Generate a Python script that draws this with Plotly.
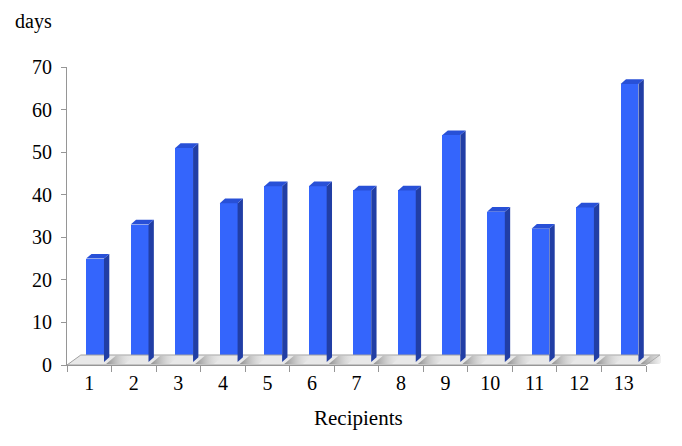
import plotly.graph_objects as go

recipients = [str(i) for i in range(1, 14)]
days = [25, 33, 51, 38, 42, 42, 41, 41, 54, 36, 32, 37, 66]
y_ticks = [0, 10, 20, 30, 40, 50, 60, 70]

# 3D-look parameters (in data units)
BAR_SHIFT = 0.13     # bar front face shifted right of category centre
BAR_W = 0.40         # front face width
DDX, DDY = 0.12, 1.1 # bar depth
FDX, FDY = 0.31, 2.35  # floor depth
BASE = 0.7

FRONT = "rgb(52,101,252)"
SIDE = "rgb(33,62,165)"
TOP = "rgb(40,80,215)"
AXIS = "rgb(150,150,150)"
FONT = "Liberation Serif"

L, T, B = 67, 67, 81
W_PLOT = 594
H_PLOT = 446 - T - B
PX_PER_CAT = 44.54

n = len(days)
xpos = [i + 1 for i in range(n)]
x_max = 0.5 + W_PLOT / PX_PER_CAT

fig = go.Figure()

# floor
fig.add_trace(go.Scatter(
    x=[0.5, n + 0.5, n + 0.5 + FDX, 0.5 + FDX, 0.5],
    y=[0, 0, FDY, FDY, 0],
    fill="toself", fillcolor="rgb(232,232,232)",
    line=dict(color="rgb(160,160,160)", width=1),
    mode="lines", hoverinfo="skip", showlegend=False))

# shadows on floor between bars
for x in xpos:
    xl = x + BAR_SHIFT + BAR_W / 2 + DDX * 0.4
    xr = x + 0.8
    fig.add_trace(go.Scatter(
        x=[xl, xr, xr + FDX * 0.7, xl + FDX * 0.7, xl],
        y=[0.25, 0.25, FDY - 0.15, FDY - 0.15, 0.25],
        fill="toself",
        fillgradient=dict(type="horizontal",
                          colorscale=[[0, "rgb(140,140,140)"], [1, "rgba(232,232,232,0)"]]),
        line=dict(width=0), mode="lines", hoverinfo="skip", showlegend=False))

# front faces
fig.add_trace(go.Bar(
    x=[x + BAR_SHIFT for x in xpos], y=[v - BASE for v in days], base=BASE,
    width=BAR_W, marker=dict(color=FRONT, line=dict(width=0)),
    hoverinfo="skip", showlegend=False))

# side and top faces
for x, v in zip(xpos, days):
    xl = x + BAR_SHIFT - BAR_W / 2
    xr = x + BAR_SHIFT + BAR_W / 2
    fig.add_trace(go.Scatter(
        x=[xr, xr + DDX, xr + DDX, xr, xr],
        y=[BASE, BASE + DDY, v + DDY, v, BASE],
        fill="toself", fillcolor=SIDE, line=dict(width=0),
        mode="lines", hoverinfo="skip", showlegend=False))
    fig.add_trace(go.Scatter(
        x=[xl, xr, xr + DDX, xl + DDX, xl],
        y=[v, v, v + DDY, v + DDY, v],
        fill="toself", fillcolor=TOP, line=dict(width=0),
        mode="lines", hoverinfo="skip", showlegend=False))

# invisible trace for the category axis display
fig.add_trace(go.Scatter(
    x=recipients, y=days, xaxis="x2", yaxis="y",
    mode="markers", marker=dict(opacity=0), hoverinfo="skip", showlegend=False))


def px_x(px):
    return (px - L) / W_PLOT


def px_y(py):
    return (446 - B - py) / H_PLOT


fig.update_layout(
    width=682, height=446,
    margin=dict(l=L, r=682 - L - W_PLOT, t=T, b=B),
    paper_bgcolor="white", plot_bgcolor="rgba(0,0,0,0)",
    font=dict(family=FONT, size=20, color="black"),
    bargap=0,
    xaxis=dict(range=[0.5, x_max], domain=[0, 1], showline=False, showgrid=False,
               zeroline=False, showticklabels=False, ticks=""),
    xaxis2=dict(type="category", categoryorder="array", categoryarray=recipients,
                range=[-0.5, n - 0.5], domain=[0, n * PX_PER_CAT / W_PLOT], anchor="y",
                side="bottom",
                showline=True, linecolor=AXIS, linewidth=1,
                ticks="outside", tickson="boundaries", ticklen=6, tickcolor=AXIS,
                showgrid=False, zeroline=False,
                tickfont=dict(family=FONT, size=20)),
    yaxis=dict(range=[0, 70], tickvals=y_ticks, showline=True, linecolor=AXIS,
               linewidth=1, ticks="outside", ticklen=5, tickcolor=AXIS,
               showgrid=False, zeroline=False, ticklabelstandoff=5,
               tickfont=dict(family=FONT, size=20)),
    annotations=[
        dict(text="days", x=px_x(13), y=px_y(22), xref="paper", yref="paper",
             showarrow=False, xanchor="left", yanchor="middle",
             font=dict(family=FONT, size=20)),
        dict(text="Recipients", x=px_x(358), y=px_y(418), xref="paper", yref="paper",
             showarrow=False, xanchor="center", yanchor="middle",
             font=dict(family=FONT, size=21)),
    ],
)

fig.write_html("out.html", config={"displayModeBar": False},
               post_script="document.body.style.margin='0';document.body.style.padding='0';")
